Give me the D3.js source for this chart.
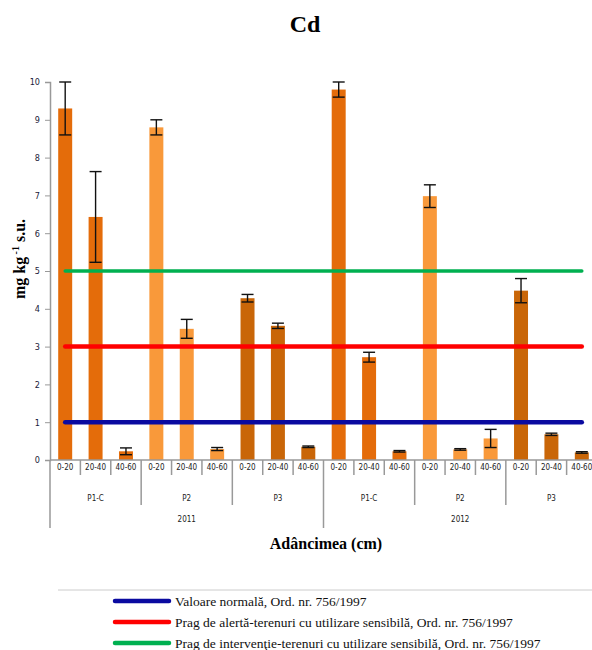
<!DOCTYPE html>
<html>
<head>
<meta charset="utf-8">
<script src="https://cdn.jsdelivr.net/npm/d3@7"></script>
<style>
  body { margin: 0; background: #fff; }
  svg { display: block; }
</style>
</head>
<body>
<div id="chart"></div>
<script>
// data
const years = ["2011", "2012"];
const sites = ["P1-C", "P2", "P3"];
const depths = ["0-20", "20-40", "40-60"];
// one value per bar, order: year -> site -> depth
const values = [9.3, 6.43, 0.23, 8.8, 3.47, 0.29, 4.28, 3.55, 0.35,
                9.8, 2.72, 0.23, 6.98, 0.28, 0.57, 4.48, 0.68, 0.2];
const errors = [0.7, 1.2, 0.09, 0.2, 0.25, 0.04, 0.1, 0.07, 0.02,
                0.2, 0.13, 0.02, 0.3, 0.02, 0.24, 0.32, 0.03, 0.02];
const yTicks = [0, 1, 2, 3, 4, 5, 6, 7, 8, 9, 10];
const refNames = ["Valoare normală, Ord. nr. 756/1997",
                  "Prag de alertă-terenuri cu utilizare sensibilă, Ord. nr. 756/1997",
                  "Prag de intervenţie-terenuri cu utilizare sensibilă, Ord. nr. 756/1997"];
const refValues = [1, 3, 5];

const siteColors = { "P1-C": "#e46c0a", "P2": "#f9993a", "P3": "#c96608" };
const refColors = ["#0a0aa0", "#ff0000", "#00b050"];

// build the rows
const rows = [];
years.forEach((yr, yi) => {
  sites.forEach((s, si) => {
    depths.forEach((d, di) => {
      const i = yi * 9 + si * 3 + di;
      rows.push({ id: i, year: yr, site: s, depth: d, value: values[i], err: errors[i] });
    });
  });
});

const W = 592, H = 650;
const plotL = 50, plotR = 597, plotT = 82, plotB = 460;

const svg = d3.select("#chart").append("svg")
  .attr("width", W).attr("height", H);

const x = d3.scaleBand().domain(rows.map(d => d.id)).range([plotL, plotR]).padding(0);
const y = d3.scaleLinear().domain([0, 10]).range([plotB, plotT]);
const barW = x.bandwidth() * 0.46;

// title
svg.append("text")
  .attr("x", 305).attr("y", 32)
  .attr("text-anchor", "middle")
  .style("font-family", "Liberation Serif, serif")
  .style("font-weight", "bold").style("font-size", "24px")
  .text("Cd");

// y axis
const yAxis = svg.append("g")
  .attr("transform", `translate(${plotL},0)`)
  .call(d3.axisLeft(y).tickValues(yTicks).tickSize(5).tickPadding(5));
yAxis.select(".domain").attr("stroke", "#999").attr("stroke-width", 1.5);
yAxis.selectAll(".tick line").attr("stroke", "#999");
yAxis.selectAll("text")
  .style("font-family", "DejaVu Sans Condensed, sans-serif")
  .style("font-size", "9px").attr("fill", "#1a1a3a");

svg.append("text")
  .attr("transform", "translate(25,259) rotate(-90)")
  .attr("text-anchor", "middle")
  .style("font-family", "Liberation Serif, serif")
  .style("font-weight", "bold").style("font-size", "16px")
  .html('mg kg<tspan dy="-6" font-size="10px"> -1</tspan><tspan dy="6"> s.u.</tspan>');

// bars
svg.selectAll(".bar")
  .data(rows)
  .enter().append("rect")
  .attr("class", "bar")
  .attr("x", d => x(d.id) + (x.bandwidth() - barW) / 2)
  .attr("y", d => y(d.value))
  .attr("width", barW)
  .attr("height", d => y(0) - y(d.value))
  .attr("fill", d => siteColors[d.site]);

// error bars
const eb = svg.selectAll(".err").data(rows).enter().append("g").attr("class", "err")
  .attr("stroke", "#111").attr("stroke-width", 1.4);
const cx = d => x(d.id) + x.bandwidth() / 2;
eb.append("line")
  .attr("x1", cx).attr("x2", cx)
  .attr("y1", d => y(d.value + d.err)).attr("y2", d => y(d.value - d.err));
eb.append("line")
  .attr("x1", d => cx(d) - 6).attr("x2", d => cx(d) + 6)
  .attr("y1", d => y(d.value + d.err)).attr("y2", d => y(d.value + d.err));
eb.append("line")
  .attr("x1", d => cx(d) - 6).attr("x2", d => cx(d) + 6)
  .attr("y1", d => y(d.value - d.err)).attr("y2", d => y(d.value - d.err));

// reference lines
const firstC = cx(rows[0]), lastC = cx(rows[rows.length - 1]);
svg.selectAll(".ref")
  .data(refValues)
  .enter().append("line")
  .attr("class", "ref")
  .attr("x1", firstC).attr("x2", lastC)
  .attr("y1", d => y(d)).attr("y2", d => y(d))
  .attr("stroke", (d, i) => refColors[i])
  .attr("stroke-width", (d, i) => i === 2 ? 3.5 : 4.5)
  .attr("stroke-linecap", "round");

// x axis (multi level)
const gx = svg.append("g").attr("stroke", "#999").attr("stroke-width", 1.5);
gx.append("line").attr("x1", plotL).attr("x2", plotR).attr("y1", plotB).attr("y2", plotB);
rows.forEach((d, i) => {
  const xl = x(d.id);
  let y2 = 475;
  if (i % 9 === 0) y2 = 528;
  else if (i % 3 === 0) y2 = 505;
  gx.append("line").attr("x1", xl).attr("x2", xl).attr("y1", plotB).attr("y2", y2);
});

const lab = svg.append("g")
  .style("font-family", "DejaVu Sans Condensed, sans-serif")
  .style("font-size", "8px").attr("fill", "#222")
  .attr("text-anchor", "middle");
lab.selectAll(".dl").data(rows).enter().append("text")
  .attr("x", d => cx(d)).attr("y", 470)
  .text(d => d.depth);
years.forEach((yr, yi) => {
  sites.forEach((s, si) => {
    const a = x(yi * 9 + si * 3), b = x(yi * 9 + si * 3 + 2) + x.bandwidth();
    lab.append("text").attr("x", (a + b) / 2).attr("y", 501).text(s);
  });
  const a = x(yi * 9), b = x(yi * 9 + 8) + x.bandwidth();
  lab.append("text").attr("x", (a + b) / 2).attr("y", 522).text(yr);
});

svg.append("text")
  .attr("x", 326).attr("y", 549)
  .attr("text-anchor", "middle")
  .style("font-family", "Liberation Serif, serif")
  .style("font-weight", "bold").style("font-size", "16px")
  .text("Adâncimea (cm)");

// legend
svg.append("line").attr("x1", 58).attr("x2", 592).attr("y1", 590).attr("y2", 590)
  .attr("stroke", "#ccc").attr("stroke-width", 1);
const lg = svg.selectAll(".lg").data(refNames).enter().append("g")
  .attr("transform", (d, i) => `translate(0,${601 + i * 21})`);
lg.append("line").attr("x1", 115).attr("x2", 169)
  .attr("stroke", (d, i) => refColors[i]).attr("stroke-width", 4.5)
  .attr("stroke-linecap", "round");
lg.append("text").attr("x", 175).attr("y", 4.5)
  .style("font-family", "Liberation Serif, serif").style("font-size", "13.5px")
  .attr("fill", "#111")
  .text(d => d);
</script>
</body>
</html>
